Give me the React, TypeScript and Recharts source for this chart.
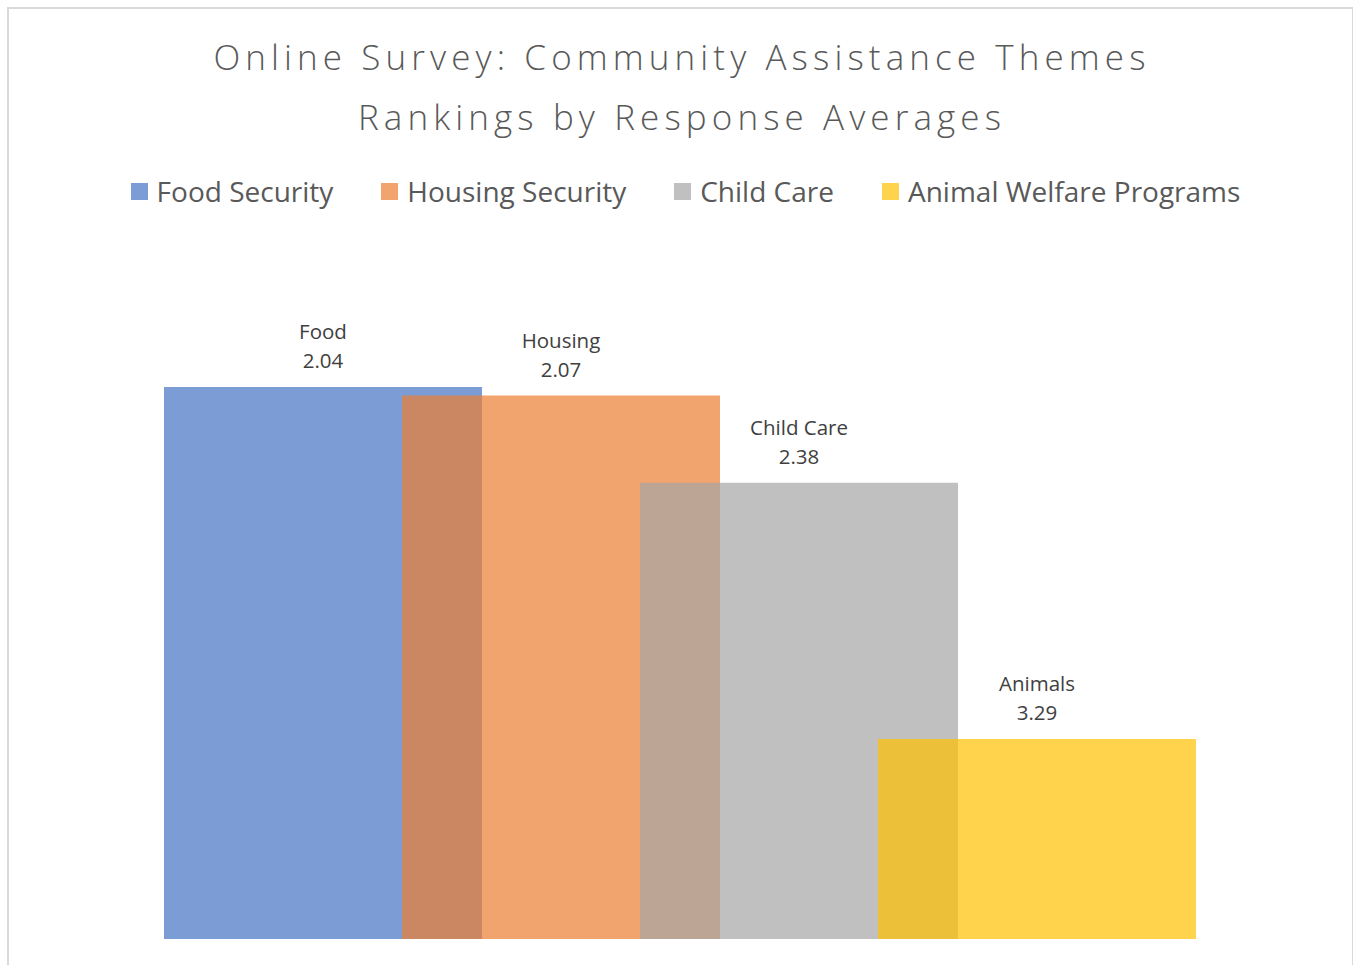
import React from "react";
import { BarChart, Bar, XAxis, YAxis } from "recharts";

const themes = ["Food Security", "Housing Security", "Child Care", "Animal Welfare Programs"];
const shortNames = ["Food", "Housing", "Child Care", "Animals"];
const averages = [2.04, 2.07, 2.38, 3.29];
const colors = ["#4472C4", "#ED7D31", "#A5A5A5", "#FFC000"];
const axisRange = [1.5, 4];

const FONT = "'Open Sans', sans-serif";

// one category, every theme its own series; bars run from the axis max (bottom) up to the average
const row: Record<string, any> = { theme: "Average" };
themes.forEach((t, i) => {
  row[`s${i}`] = [averages[i], axisRange[1]];
});
const chartData = [row];

const makeLabel = (i: number) => (props: any) => {
  const { x, y, width, height } = props;
  const top = Math.min(y, y + height);
  const cx = x + width / 2;
  return (
    <g>
      <text x={cx} y={top - 48} textAnchor="middle" fontSize={20.5} fill="#404040" fontFamily={FONT}>
        {shortNames[i]}
      </text>
      <text x={cx} y={top - 19} textAnchor="middle" fontSize={20.5} fill="#404040" fontFamily={FONT}>
        {averages[i].toFixed(2)}
      </text>
    </g>
  );
};

const App = () => {
  return (
    <>
      <style>{"body{margin:0;overflow:hidden} #root{position:relative;width:1353px;height:965px;overflow:hidden}"}</style>
      <div
        style={{
          position: "absolute",
          left: 7,
          top: 7,
          width: 1343,
          height: 990,
          border: "2px solid #D9D9D9",
          background: "#fff",
          fontFamily: FONT,
        }}
      >
        <div
          style={{
            position: "absolute",
            top: 18,
            left: 0,
            width: "100%",
            textAlign: "center",
            fontSize: 35,
            lineHeight: "60px",
            fontWeight: 300,
            color: "#595959",
            letterSpacing: 5.1,
            paddingLeft: 3,
            boxSizing: "border-box",
          }}
        >
          <div>Online Survey: Community Assistance Themes</div>
          <div>Rankings by Response Averages</div>
        </div>
        <div
          style={{
            position: "absolute",
            top: 167,
            left: 0,
            width: "100%",
            paddingLeft: 10,
            boxSizing: "border-box",
            display: "flex",
            justifyContent: "center",
            gap: 48,
            fontSize: 28,
            lineHeight: "30px",
            color: "#595959",
          }}
        >
          {themes.map((t, i) => (
            <div key={t} style={{ display: "flex", alignItems: "center" }}>
              <span
                style={{
                  display: "inline-block",
                  width: 17,
                  height: 17,
                  background: colors[i],
                  opacity: 0.7,
                  marginRight: 9,
                  marginTop: 1,
                }}
              />
              <span>{t}</span>
            </div>
          ))}
        </div>
        <div style={{ position: "absolute", top: 0, left: 0 }}>
          <BarChart
            width={1343}
            height={990}
            data={chartData}
            margin={{ top: 226, right: 21, bottom: 60, left: 19 }}
            barGap={-80}
          >
            <XAxis dataKey="theme" hide />
            <YAxis type="number" domain={axisRange} reversed hide allowDataOverflow />
            {themes.map((t, i) => (
              <Bar
                key={t}
                dataKey={`s${i}`}
                name={t}
                fill={colors[i]}
                fillOpacity={0.7}
                barSize={318}
                isAnimationActive={false}
                label={makeLabel(i)}
              />
            ))}
          </BarChart>
        </div>
      </div>
    </>
  );
};

export default App;
